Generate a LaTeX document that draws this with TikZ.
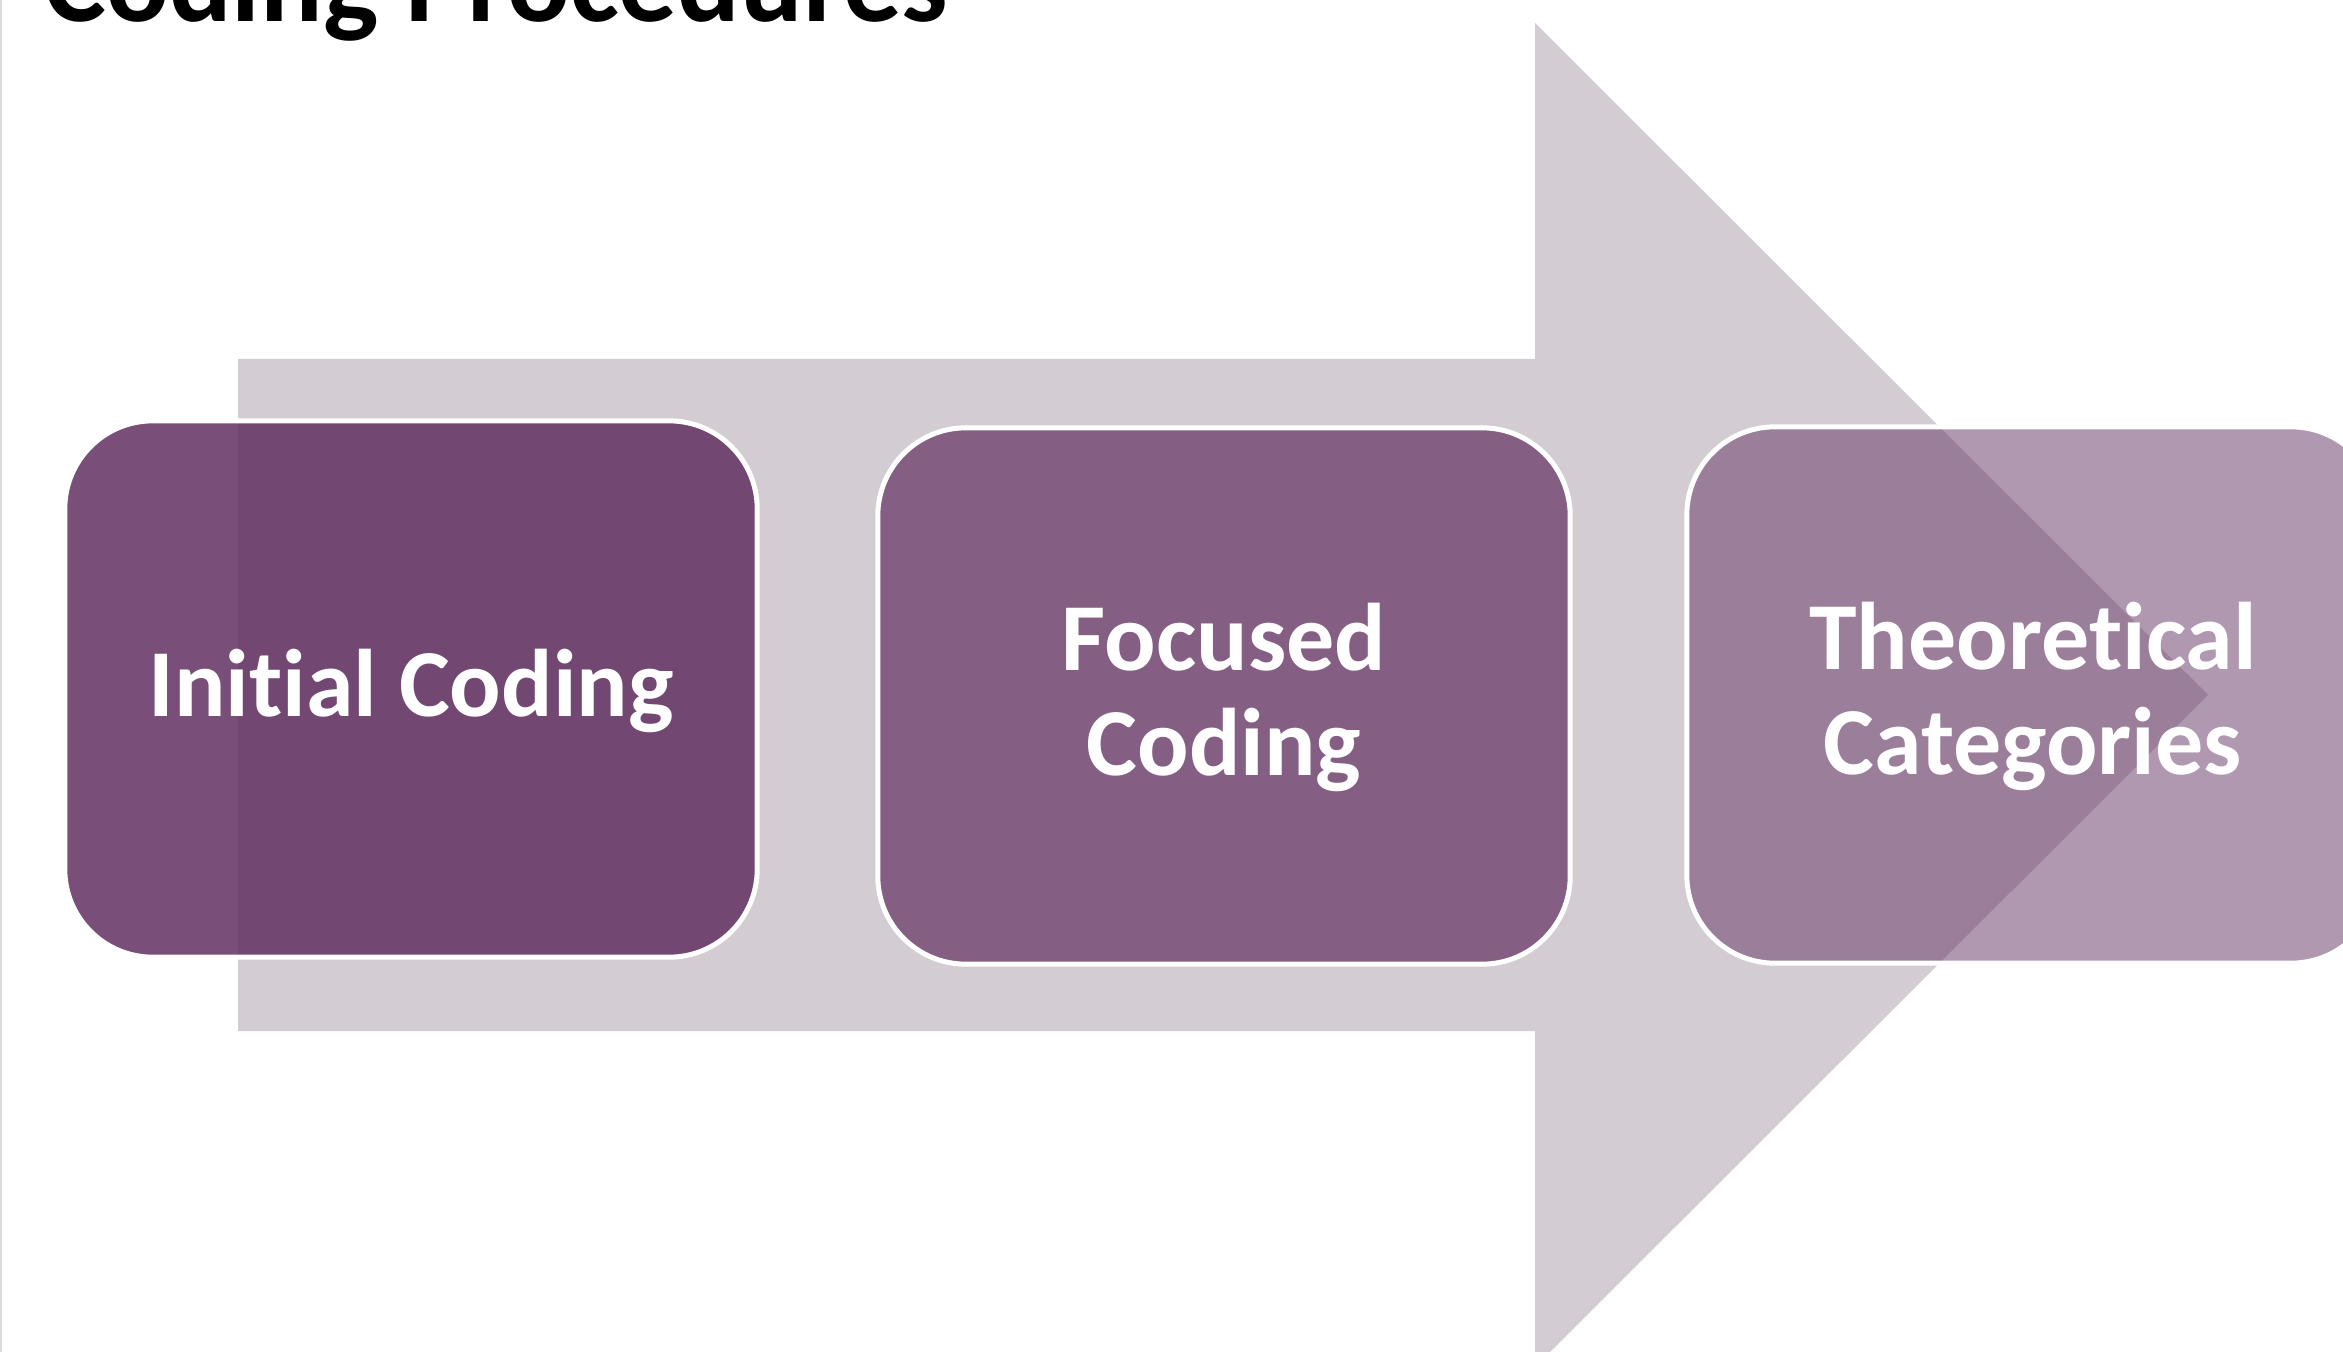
\documentclass[tikz,border=0pt]{standalone}
\usepackage{fontspec}
\setmainfont{Carlito}[Ligatures={NoCommon}]
\definecolor{arrowgray}{RGB}{211,204,211}
\definecolor{boxpurple}{RGB}{99,50,98}
\definecolor{edgegray}{RGB}{220,220,220}
\newcommand{\mytopstrut}{\rule{0pt}{25pt}}
\newcommand{\mybotstrut}{\rule[-9.5pt]{0pt}{9.5pt}}
\tikzset{
  stepbox/.style={rectangle, rounded corners=0.88cm, minimum width=6.92cm,
    minimum height=5.36cm, draw=white, line width=1.42pt, fill=boxpurple,
    text=white, text opacity=1, draw opacity=1, align=center, inner sep=0pt,
    font=\bfseries\fontsize{27.3}{29.8}\selectfont},
  bigarrow/.style={fill=arrowgray, draw=none},
  titletext/.style={anchor=base west, inner sep=0pt, text=black,
    font=\bfseries\fontsize{33.2}{40}\selectfont}
}
\begin{document}
\begin{tikzpicture}[x=0.01cm, y=-0.01cm]
  \useasboundingbox (0,0) rectangle (2343,1352);
  \clip (0,0) rectangle (2343,1352);
  \fill[white] (0,0) rectangle (2343,1352);
  % left edge line
  \fill[edgegray] (0,0) rectangle (2,1352);
  % title
  \node[titletext] (title) at (44,22) {Coding Procedures};
  % big arrow
  \fill[bigarrow] (238,359) -- (1535,359) -- (1535,23) -- (2208,695)
     -- (1535,1367) -- (1535,1031) -- (238,1031) -- cycle;
  % boxes
  \node[stepbox, fill opacity=0.86] (initial) at (411,689)
     {\mytopstrut Initial Coding\mybotstrut};
  \node[stepbox, fill opacity=0.70] (focused) at (1224,696)
     {\mytopstrut Focused\\Coding\mybotstrut};
  \node[stepbox, fill opacity=0.50] (theory) at (2033,695)
     {\mytopstrut Theoretical\\Categories\mybotstrut};
\end{tikzpicture}
\end{document}
